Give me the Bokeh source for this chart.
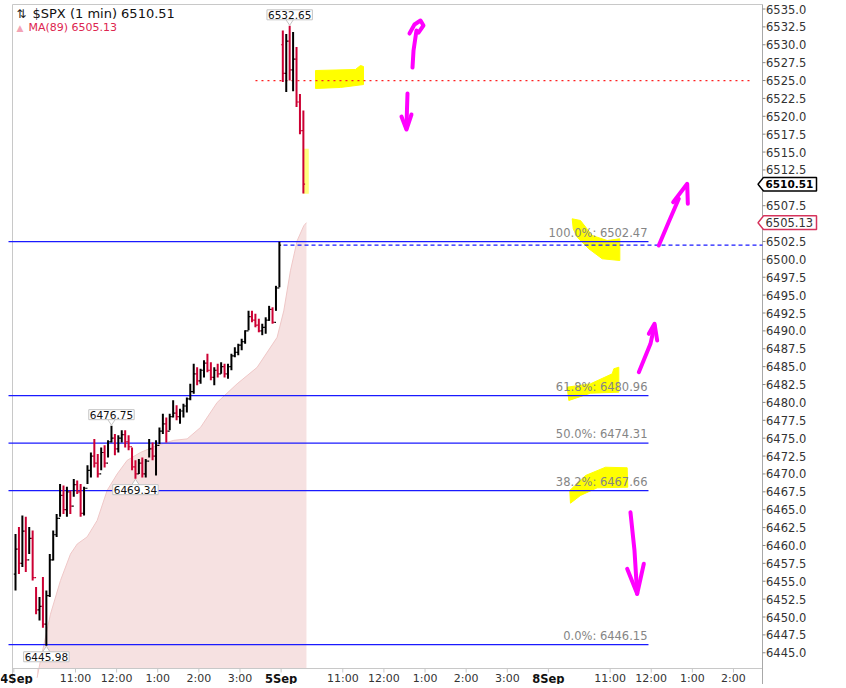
from bokeh.plotting import figure
from bokeh.models import Range1d, Label
from bokeh.core.properties import value
from bokeh.embed import file_html
from bokeh.resources import INLINE

# ---------------- data ----------------
# 5-minute summaries of the 1-min $SPX bars, 4 Sep 09:30-16:00 (minute 0 = 4 Sep 09:30)
sep4_high = [6461.6, 6462.6, 6464.2, 6464.0, 6462.6, 6462.1, 6454.2, 6452.8, 6455.6, 6453.7,
             6458.8, 6462.1, 6464.4, 6468.6, 6468.4, 6468.2, 6467.7, 6469.3, 6469.1, 6468.6,
             6468.2, 6471.2, 6473.0, 6474.9, 6472.8, 6473.7, 6474.0, 6474.7, 6476.75, 6475.6,
             6475.4, 6476.1, 6476.1, 6475.4, 6473.7, 6471.9, 6472.1, 6472.3, 6472.1, 6474.9,
             6474.4, 6474.7, 6476.5, 6478.4, 6477.9, 6478.4, 6480.3, 6479.6, 6479.1, 6479.8,
             6480.7, 6482.6, 6485.4, 6484.9, 6484.7, 6485.9, 6486.8, 6485.6, 6484.9, 6485.4,
             6485.6, 6485.4, 6485.4, 6486.8, 6487.7, 6488.2, 6488.9, 6490.1, 6492.8, 6492.8,
             6492.4, 6491.7, 6491.0, 6491.9, 6493.5, 6493.3, 6496.3, 6502.47]
sep4_low = [6453.7, 6456.0, 6457.0, 6456.3, 6458.8, 6455.1, 6450.4, 6449.5, 6448.5, 6445.98,
            6452.8, 6457.9, 6461.2, 6464.0, 6464.4, 6464.0, 6464.4, 6466.8, 6467.2, 6464.0,
            6464.2, 6468.6, 6469.5, 6470.9, 6469.5, 6470.5, 6470.9, 6472.3, 6474.4, 6472.6,
            6473.0, 6474.4, 6473.7, 6473.3, 6470.5, 6469.34, 6470.0, 6469.5, 6469.5, 6472.3,
            6471.9, 6469.8, 6474.2, 6475.6, 6474.4, 6476.1, 6477.9, 6477.5, 6477.0, 6477.9,
            6478.6, 6480.3, 6481.2, 6482.4, 6482.6, 6483.5, 6484.2, 6483.1, 6482.4, 6483.5,
            6484.0, 6483.5, 6483.3, 6484.5, 6486.3, 6486.6, 6487.3, 6488.2, 6490.1, 6491.2,
            6490.5, 6489.8, 6489.4, 6489.6, 6491.4, 6491.0, 6492.8, 6496.1]
sep4_close = [6459.5, 6457.5, 6462.0, 6458.0, 6461.0, 6455.5, 6451.0, 6451.5, 6449.0, 6453.0,
              6458.0, 6461.5, 6463.8, 6467.0, 6465.0, 6467.5, 6465.5, 6468.5, 6467.5, 6464.5,
              6468.0, 6470.5, 6472.5, 6471.5, 6470.0, 6473.0, 6471.5, 6474.5, 6475.0, 6473.5,
              6475.0, 6475.5, 6474.5, 6473.8, 6471.0, 6470.0, 6471.5, 6470.0, 6471.8, 6473.5,
              6472.5, 6474.0, 6476.0, 6477.0, 6476.0, 6478.0, 6478.5, 6478.0, 6478.8, 6479.5,
              6480.5, 6481.5, 6484.0, 6483.0, 6484.5, 6485.5, 6484.5, 6483.5, 6484.5, 6484.0,
              6485.0, 6484.0, 6485.0, 6486.5, 6487.0, 6488.0, 6488.5, 6490.0, 6492.0, 6491.5,
              6490.8, 6490.0, 6490.5, 6491.5, 6493.0, 6491.2, 6496.0, 6502.0]
sep4_first_open = 6456.0

# 5 Sep, first ~35 minutes (minute 390 = 5 Sep 09:30)
sep5_high = [6532.0, 6531.5, 6532.65, 6531.8, 6529.7, 6523.1, 6520.8]
sep5_low = [6524.8, 6523.4, 6525.0, 6523.5, 6521.3, 6517.5, 6509.2]
sep5_close = [6526.0, 6530.5, 6526.5, 6528.0, 6522.0, 6518.0, 6510.51]
sep5_first_open = 6530.0

# MA(89)
ma_minute = [34.0, 38.9, 53.5, 68.1, 82.7, 92.5, 107.0, 121.6, 136.2, 150.8, 165.4, 184.8, 209.2,
             233.5, 252.9, 272.4, 296.7, 325.8, 355.0, 384.2, 393.9, 403.6, 413.4, 423.1, 427.0]
ma_value = [6441.5, 6443.9, 6450.4, 6455.1, 6458.8, 6460.2, 6461.2, 6463.5, 6467.7, 6470.0, 6471.9,
            6473.0, 6474.0, 6474.7, 6474.9, 6476.5, 6480.0, 6482.6, 6484.9, 6489.1, 6492.8, 6498.4,
            6502.6, 6504.7, 6505.13]

# Fibonacci retracement levels
fib_pct = ["100.0%", "61.8%", "50.0%", "38.2%", "0.0%"]
fib_level = [6502.47, 6480.96, 6474.31, 6467.66, 6446.15]
fib_end_minute = 926.0
resistance_level = 6525.0   # red dotted
resistance_span = [352.6, 1077.0]
prior_high_level = 6502.0   # blue dashed
prior_high_start = 393.5

# labelled extremes (minute, value, side)
ext_minute = [402.5, 142.5, 177.5, 47.5]
ext_value = [6532.65, 6476.75, 6469.34, 6445.98]
ext_side = ["above", "above", "below", "below"]

last_price = 6510.51
ma_last = 6505.13

# price-axis ticks
y_ticks = [6445.0 + 2.5 * i for i in range(37)]
y_ticks = [t for t in y_ticks if t not in (6505.0, 6510.0)]

# time-axis ticks (minutes) and labels
x_tick_minute = [0, 90, 150, 210, 270, 330, 390, 480, 540, 600, 660, 720, 780, 870, 930, 990, 1050]
x_tick_label = ["4Sep", "11:00", "12:00", "1:00", "2:00", "3:00", "5Sep", "11:00", "12:00", "1:00",
                "2:00", "3:00", "8Sep", "11:00", "12:00", "1:00", "2:00"]
day_labels = ["4Sep", "5Sep", "8Sep"]

# hand-drawn annotations (minute, price)
yellow_xs = [
    [440.2, 498.5, 505.8, 510.2, 510.2, 476.7, 440.2],
    [814.7, 826.8, 843.9, 865.8, 884.2, 884.2, 858.5, 838.9, 822.0, 816.2],
    [807.4, 841.4, 873.1, 875.4, 882.7, 882.7, 841.4, 809.8],
    [811.2, 834.1, 863.3, 894.9, 895.8, 851.2, 826.8, 812.2],
]
yellow_ys = [
    [6526.40, 6526.54, 6527.10, 6526.96, 6524.44, 6524.03, 6523.89],
    [6505.67, 6505.43, 6503.33, 6502.63, 6502.87, 6499.84, 6500.08, 6501.48, 6503.09, 6504.27],
    [6482.13, 6482.60, 6484.00, 6484.70, 6484.92, 6481.43, 6481.29, 6480.27],
    [6467.69, 6469.78, 6470.94, 6470.86, 6468.15, 6468.06, 6466.99, 6465.91],
]
last_bar_hl_x = [422.2, 430.4]
last_bar_hl_y = [6509.17, 6515.46]

magenta_xs = [
    [581.7, 583.2, 587.5], [577.3, 584.6, 593.4, 597.7, 590.5],
    [574.4, 573.6, 572.9], [565.6, 572.9, 580.2],
    [941.0, 955.2, 970.2], [962.0, 982.5, 983.4],
    [911.9, 928.9, 934.8], [926.5, 934.8, 938.7],
    [899.7, 905.6, 909.5], [894.9, 909.5, 919.2],
]
magenta_ys = [
    [6526.82, 6529.20, 6531.99], [6531.57, 6532.83, 6533.39, 6532.69, 6531.71],
    [6523.19, 6520.80, 6518.29], [6519.97, 6518.15, 6520.25],
    [6501.93, 6505.15, 6508.47], [6507.99, 6510.56, 6507.77],
    [6484.22, 6488.19, 6490.75], [6489.59, 6490.99, 6488.66],
    [6464.65, 6459.29, 6453.24], [6456.74, 6453.24, 6457.44],
]

# ---------------- layout helpers (page pixels -> data) ----------------
W, H = 842, 684
X0, XS = 13.3, 0.6854      # page x of minute 0, pixels per minute
Y0, YS = 8.5, 7.153        # page y of 6535.0, pixels per point
def xd(px):
    return (px - X0) / XS
def yd(py):
    return 6535.0 - (py - Y0) / YS
def dpx_x(n):
    return n / XS
def dpx_y(n):
    return n / YS

# ---------------- derived ----------------
BIN = 5
def build(close, first_open, start, n):
    opens = [first_open] + close[:-1]
    mids = [start + i * BIN + BIN / 2 for i in range(n)]
    return mids, opens

m4, o4 = build(sep4_close, sep4_first_open, 0, len(sep4_high))
m5, o5 = build(sep5_close, sep5_first_open, 390, len(sep5_high))
mids = m4 + m5
highs = sep4_high + sep5_high
lows = sep4_low + sep5_low
opens = o4 + o5
closes = sep4_close + sep5_close
UP, DOWN = "#000000", "#cc0033"
colors = [UP if c >= o else DOWN for o, c in zip(opens, closes)]

FONT = "DejaVu Sans"
GRID = "#c8c8c8"

# ---------------- figure ----------------
p = figure(frame_width=W, frame_height=H,
           x_range=Range1d(xd(0), xd(W)), y_range=Range1d(yd(H), yd(0)),
           x_axis_location=None, y_axis_location=None,
           output_backend="svg", toolbar_location=None, min_border=0)
p.background_fill_color = "white"
p.border_fill_color = "white"
p.outline_line_color = None
p.xgrid.visible = False
p.ygrid.visible = False

left_x, right_x = xd(12), xd(762)
top_y, chart_bottom_y, canvas_bottom_y = yd(4), yd(668), yd(H)

def text(xs, ys, strs, size, color, align="left", baseline="middle", style="normal"):
    p.text(x=xs, y=ys, text=strs, text_font=value(FONT), text_font_size=value(size),
           text_color=color, text_align=align, text_baseline=baseline,
           text_font_style=value(style))

# MA(89) shaded area
p.varea(x=ma_minute, y1=[chart_bottom_y] * len(ma_minute), y2=ma_value, fill_color="#f6e1e1")
p.line(ma_minute, ma_value, line_color="#efc7c7", line_width=1)

# frame / axis lines
p.segment(x0=[left_x, left_x, left_x, right_x], y0=[top_y, top_y, chart_bottom_y, top_y],
          x1=[right_x, left_x, right_x, right_x], y1=[top_y, canvas_bottom_y, chart_bottom_y, canvas_bottom_y],
          line_color=[GRID, GRID, GRID, "#a8a8a8"], line_width=1)

# yellow highlighter
p.quad(left=[last_bar_hl_x[0]], right=[last_bar_hl_x[1]], bottom=[last_bar_hl_y[0]], top=[last_bar_hl_y[1]],
       fill_color="#ffff70", line_color=None, fill_alpha=0.9)
p.patches(yellow_xs, yellow_ys, fill_color="#ffff00", line_color="#ffff00", line_width=1)

# fibonacci lines
fib_start = xd(8)
p.segment(x0=[fib_start] * len(fib_level), y0=fib_level, x1=[fib_end_minute] * len(fib_level), y1=fib_level,
          line_color="#1a1aff", line_width=1.3)
p.segment(x0=[prior_high_start], y0=[prior_high_level], x1=[right_x], y1=[prior_high_level],
          line_color="#1a1aff", line_width=1.2, line_dash="4 3")
p.segment(x0=[resistance_span[0]], y0=[resistance_level], x1=[resistance_span[1]], y1=[resistance_level],
          line_color="#ff2020", line_width=1.3, line_dash="2 4")

# price bars (high-low bar, open tick to the left, close tick to the right)
half = BIN / 2
p.segment(x0=[m - half for m in mids], y0=opens, x1=mids, y1=opens, line_color=colors, line_width=1.2)
p.segment(x0=mids, y0=closes, x1=[m + half for m in mids], y1=closes, line_color=colors, line_width=1.2)
p.segment(x0=mids, y0=lows, x1=mids, y1=highs, line_color=colors, line_width=2.0)

# magenta arrows
p.multi_line(magenta_xs, magenta_ys, line_color="#ff00ff", line_width=4, line_cap="round", line_join="round")

# fib texts
text([fib_end_minute - dpx_x(1)] * len(fib_level), [v + dpx_y(2) for v in fib_level],
     [f"{pc}: {v:.2f}" for pc, v in zip(fib_pct, fib_level)], "11.5px", "#858585",
     align="right", baseline="bottom")

# extreme value callouts (pointer + box)
for m, v, side in zip(ext_minute, ext_value, ext_side):
    s = 1 if side == "above" else -1
    edge = v + s * dpx_y(6)
    p.patch([m - dpx_x(4), m + dpx_x(4), m], [edge + s * dpx_y(0.5), edge + s * dpx_y(0.5), v + s * dpx_y(0.5)],
            fill_color="white", line_color="#c4c4c4", line_width=1)
    p.add_layout(Label(x=m, y=edge, text=f"{v:.2f}", text_align="center",
                       text_baseline="bottom" if s > 0 else "top", text_font=FONT, text_font_size="10.5px",
                       text_color="#111111", background_fill_color="white", border_line_color="#c4c4c4",
                       border_line_width=1, padding=1))

# header
text([xd(16)], [yd(13)], ["⇅"], "12px", "#222222")
text([xd(32)], [yd(13)], [f"$SPX (1 min) {last_price:.2f}"], "13px", "#111111")
text([xd(16)], [yd(27)], ["▲"], "9px", "#f3a3b5")
text([xd(28)], [yd(27)], [f"MA(89) {ma_last:.2f}"], "11px", "#dd2550")

# price axis: ticks and labels
p.segment(x0=[right_x] * len(y_ticks), y0=y_ticks, x1=[xd(765)] * len(y_ticks), y1=y_ticks,
          line_color="#888888", line_width=1)
text([xd(765.5)] * len(y_ticks), y_ticks, [f"{t:.1f}" for t in y_ticks], "11.5px", "#333333")

# price-axis callouts (last price, MA)
for v, lbl, border, style, tcol in [(last_price, f"{last_price:.2f}", "#000000", "bold", "#000000"),
                                    (ma_last, f"{ma_last:.2f}", "#d6335c", "normal", "#333333")]:
    hh = dpx_y(6.8)
    xs = [xd(757.5), xd(763), xd(816), xd(816), xd(763)]
    ys = [v, v + hh, v + hh, v - hh, v - hh]
    p.patch(xs, ys, fill_color="white", line_color=border, line_width=1.5)
    text([xd(765)], [v], [lbl], "10.5px" if style == "bold" else "11.5px", tcol, style=style)

# time axis: ticks and labels
label_y = yd(678)
p.segment(x0=x_tick_minute, y0=[chart_bottom_y] * len(x_tick_minute), x1=x_tick_minute,
          y1=[yd(672)] * len(x_tick_minute), line_color=GRID, line_width=1)
hour_m = [m for m, l in zip(x_tick_minute, x_tick_label) if l not in day_labels]
hour_l = [l for l in x_tick_label if l not in day_labels]
text(hour_m, [label_y] * len(hour_m), hour_l, "11px", "#333333", align="center")
day_m = [m for m, l in zip(x_tick_minute, x_tick_label) if l in day_labels]
day_l = [l for l in x_tick_label if l in day_labels]
day_x = [max(m, xd(1) + dpx_x(15)) for m in day_m]
text(day_x, [label_y] * len(day_m), day_l, "11.5px", "#111111", align="center", style="bold")

open("out.html", "w").write(file_html(p, INLINE))
